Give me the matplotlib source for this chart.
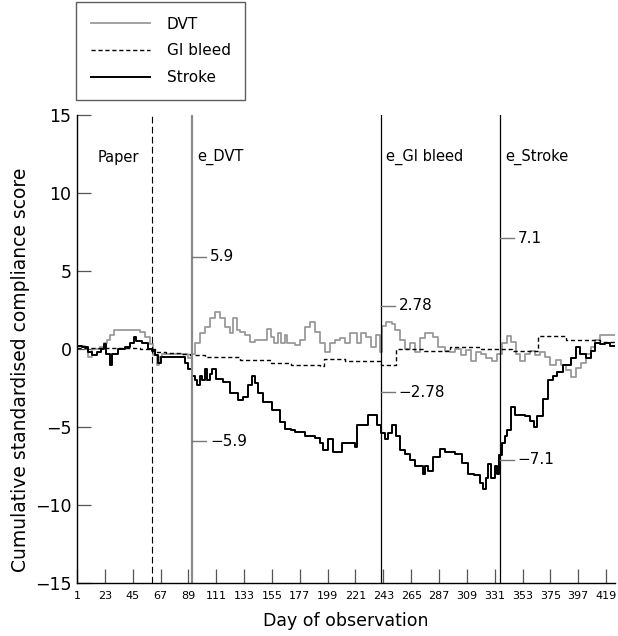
"""
Cumulative standardised compliance score per day of observation,
with paper/electronic phase markers and control limits.
Saves out.png (~618x636 px).
"""

import matplotlib
matplotlib.use("Agg")
import matplotlib.pyplot as plt

plt.rcParams["font.family"] = ["DejaVu Sans"]

# ---------------------------------------------------------------------------
# Data
# ---------------------------------------------------------------------------

dvt_days = [1, 7, 10, 13, 19, 22, 25, 27, 30, 51, 55, 59, 61, 64, 66, 68, 86,
            89, 92, 94, 98, 102, 106, 110, 114, 118, 122, 124, 127, 130, 134,
            138, 142, 147, 151, 154, 157, 160, 162, 165, 167, 173, 177, 181,
            185, 189, 193, 197, 201, 205, 209, 213, 217, 222, 225, 229, 233,
            237, 240, 242, 245, 250, 252, 256, 260, 264, 268, 272, 276, 282,
            286, 292, 296, 300, 304, 308, 312, 316, 320, 324, 329, 333, 337,
            341, 344, 348, 351, 355, 359, 363, 367, 371, 375, 379, 383, 387,
            391, 395, 399, 403, 407, 410, 414, 426]
dvt_vals = [0.2, 0.0, -0.5, 0.0, 0.1, 0.4, 0.6, 0.9, 1.2, 1.1, 0.8, 0.3,
            -0.4, -1.0, -0.5, -0.3, -0.3, -0.6, -0.3, 0.4, 1.0, 1.4, 2.0, 2.4,
            2.0, 1.4, 1.0, 2.0, 1.2, 1.1, 0.9, 0.45, 0.6, 0.6, 1.3, 0.8, 0.4,
            1.0, 0.4, 0.9, 0.4, 0.25, 0.6, 1.4, 1.7, 1.1, 0.4, -0.2, 0.4, 0.6,
            0.7, 0.4, 1.0, 0.4, 1.0, 0.8, 0.1, 0.9, -0.2, 1.5, 1.7, 1.6, 1.2,
            0.6, 0.0, 0.4, -0.2, 0.7, 1.0, 0.8, 0.1, -0.1, -0.2, 0.0, -0.4,
            -0.05, -0.8, -0.2, -0.3, -0.6, -0.8, -0.3, 0.4, 0.85, 0.45, -0.3,
            -0.8, -0.3, -0.1, -0.4, -0.2, -0.5, -1.0, -0.7, -1.0, -1.35, -1.8,
            -1.2, -0.9, -0.3, 0.1, 0.6, 0.9, 0.9]

gi_days = [1, 51, 59, 63, 71, 82, 90, 102, 130, 154, 170, 193, 196, 213, 241,
           253, 275, 296, 320, 345, 365, 387, 414, 426]
gi_vals = [0.05, 0.0, 0.0, -0.2, -0.25, -0.3, -0.4, -0.5, -0.7, -0.9, -1.0,
           -1.1, -0.65, -0.75, -1.0, 0.0, -0.15, 0.1, 0.0, -0.15, 0.85, 0.6,
           0.45, 0.4]

stroke_days = [1, 5, 10, 13, 17, 20, 22, 24, 27, 29, 33, 39, 43, 46, 48, 52,
               57, 60, 63, 65, 67, 82, 86, 89, 92, 94, 96, 98, 100, 102, 104,
               106, 108, 111, 116, 122, 128, 132, 136, 139, 142, 144, 148, 155,
               161, 165, 170, 173, 181, 189, 193, 195, 199, 203, 207, 210, 219,
               221, 222, 227, 231, 235, 238, 241, 244, 247, 250, 253, 256, 260,
               264, 268, 274, 276, 278, 282, 288, 292, 300, 305, 310, 315, 319,
               322, 324, 326, 328, 331, 333, 334, 337, 339, 341, 344, 347, 355,
               359, 362, 364, 369, 373, 377, 380, 385, 391, 395, 398, 403, 407,
               410, 414, 418, 422, 426]
stroke_vals = [0.2, 0.1, -0.2, -0.4, -0.2, 0.0, 0.3, -0.3, -1.0, -0.3, 0.0,
               0.1, 0.4, 0.8, 0.5, 0.4, 0.0, -0.1, -0.4, -0.9, -0.5, -0.5,
               -0.9, -1.3, -1.7, -2.0, -2.3, -1.7, -2.0, -1.3, -2.0, -1.6, -1.3,
               -1.9, -2.1, -2.8, -3.3, -3.1, -2.3, -1.7, -2.2, -2.8, -3.4, -3.9,
               -4.7, -5.1, -5.2, -5.3, -5.6, -5.7, -6.0, -6.5, -5.8, -6.6, -6.6,
               -6.0, -6.0, -6.3, -4.9, -4.9, -4.2, -4.2, -4.9, -5.4, -5.8, -5.4,
               -4.9, -5.6, -6.5, -6.7, -7.1, -7.5, -8.0, -7.5, -7.8, -6.9, -6.4,
               -6.6, -6.7, -7.3, -8.0, -8.1, -8.6, -9.0, -8.3, -7.4, -8.3, -7.5,
               -8.0, -6.8, -6.0, -5.6, -5.2, -3.7, -4.2, -4.3, -4.6, -5.0, -4.3,
               -3.2, -2.0, -1.7, -1.5, -1.0, -0.6, 0.1, -0.3, -0.6, -0.1, 0.4,
               0.3, 0.4, 0.2, 0.2]

# phase change markers (day) and their captions
phase_days = [60, 92, 241, 335]
phase_names = ["Paper", "e_DVT", "e_GI bleed", "e_Stroke"]

# control limits drawn on each electronic phase line
limit_days = [92, 241, 335]
limit_vals = [5.9, 2.78, 7.1]
limit_text = ["5.9", "2.78", "7.1"]

x_ticks = list(range(1, 420, 22))
y_ticks = [-15, -10, -5, 0, 5, 10, 15]

# ---------------------------------------------------------------------------
# Figure
# ---------------------------------------------------------------------------

fig = plt.figure(figsize=(6.18, 6.36), dpi=100)
ax = fig.add_axes([77 / 618, 53 / 636, 538 / 618, 468 / 636])

l_dvt, = ax.plot(dvt_days, dvt_vals, drawstyle="steps-post",
                 color="#9a9a9a", lw=1.3, label="DVT")
l_gi, = ax.plot(gi_days, gi_vals, drawstyle="steps-post",
                color="black", lw=1.0, ls=(0, (3, 2)), label="GI bleed")
l_st, = ax.plot(stroke_days, stroke_vals, drawstyle="steps-post",
                color="black", lw=1.4, label="Stroke")

# phase lines
ax.axvline(phase_days[0], color="black", lw=0.8, ls=(0, (6, 3)))
ax.axvline(phase_days[1], color="#8a8a8a", lw=1.6)
ax.axvline(phase_days[2], color="black", lw=0.9)
ax.axvline(phase_days[3], color="black", lw=0.9)

for d, name in zip(phase_days, phase_names):
    off = -43 if name == "Paper" else 4
    ax.text(d + off, 12.3, name, fontsize=10.5, va="center", ha="left")

# control limit marks
for d, v, t in zip(limit_days, limit_vals, limit_text):
    for sign in (1, -1):
        ax.plot([d, d + 11], [sign * v, sign * v], color="#777777", lw=1.0)
        lab = t if sign > 0 else "\u2212" + t
        ax.text(d + 14, sign * v, lab, fontsize=11, va="center", ha="left")

ax.set_xlim(1, 426)
ax.set_ylim(-15, 15)
ax.set_xticks(x_ticks)
ax.set_xticklabels([str(t) for t in x_ticks], fontsize=8)
ax.set_yticks(y_ticks)
ax.set_yticklabels([str(t).replace("-", "\u2212") for t in y_ticks], fontsize=12.5)
ax.tick_params(axis="both", direction="in", length=10, width=0.9,
               color="#555555")
ax.tick_params(axis="x", pad=6)
ax.tick_params(axis="y", pad=4)

for side in ("top", "right"):
    ax.spines[side].set_visible(False)
for side in ("left", "bottom"):
    ax.spines[side].set_linewidth(1.0)

ax.set_xlabel("Day of observation", fontsize=12.5, labelpad=8)
ax.set_ylabel("Cumulative standardised compliance score", fontsize=13.5)
ax.yaxis.set_label_coords(-0.088, 0.455)

leg = fig.legend(handles=[l_dvt, l_gi, l_st], loc="upper left",
                 bbox_to_anchor=(76 / 618, 1 - 2 / 636), borderaxespad=0,
                 fontsize=11, frameon=True, fancybox=False, handlelength=3.9,
                 handletextpad=1.1, borderpad=0.95, labelspacing=0.78)
leg.get_frame().set_edgecolor("#333333")
leg.get_frame().set_linewidth(1.0)

fig.savefig("out.png", dpi=100)
